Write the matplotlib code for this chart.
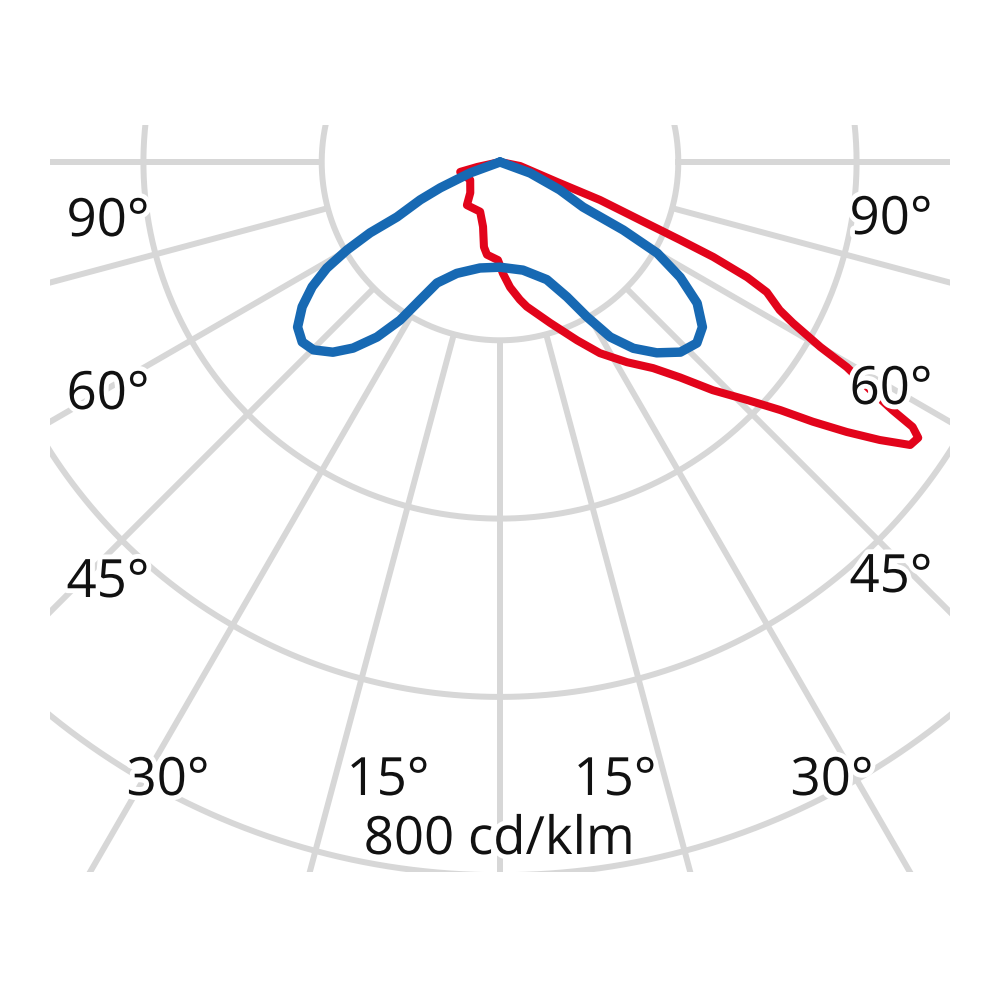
import numpy as np
import matplotlib
matplotlib.use("Agg")
import matplotlib.pyplot as plt
import matplotlib.patheffects as pe

# luminous intensity, angle from nadir (deg, + = right) and cd/klm
blue_angles = [-75, -69.9, -66.6, -64.6, -61.9, -61.4, -60.1, -58.5, -56.4, -53.8,
               -50.8, -47.7, -44.8, -41.3, -38.3, -35.1, -32.3, -30.1, -27.5, -21.2,
               -10.7, 0, 12, 21.7, 26.4, 29.3, 32.2, 35.6, 39.4, 43.5,
               47.4, 50.8, 54.4, 57.4, 59.9, 61.1, 61.5, 65, 69.9, 75]
blue_values = [0, 36, 73, 99, 131, 166, 198, 228, 253, 275,
               293, 300, 297, 284, 266, 240, 210, 179, 153, 134,
               121, 118, 124, 142, 169, 199, 232, 257, 277, 294,
               300, 293, 272, 240, 204, 158, 106, 74, 36, 0]

red_angles = [-85, -77.7, -76, -59, -44, -37.5, -21.8, -14.7, -10.7, -8,
              -1.2, 1.5, 4.6, 8.2, 10.5, 17.3, 23.4, 27.6, 32.4, 36.6,
              39.9, 43.0, 46.1, 48.5, 50.3, 52.1, 53.8, 55.4, 56.6, 57.3,
              57.7, 58.4, 59.4, 60.0, 61.2, 62.1, 64.0, 65.0, 66.0, 66.6,
              67.5, 69.2, 70.7, 78.7, 85]
red_values = [0, 26, 46, 39, 48, 61, 60, 75, 97, 105,
              110, 125, 141, 156, 165, 189, 218, 242, 266, 288,
              315, 350, 385, 420, 456, 493, 528, 559, 562, 550,
              521, 488, 452, 415, 375, 355, 333, 306, 262, 220,
              170, 120, 68, 23, 0]

ring_values = [200, 400, 600, 800, 1000]
spoke_angles = np.arange(0, 360, 15)

left_labels = ["90°", "60°", "45°"]
right_labels = ["90°", "60°", "45°"]
bottom_labels = ["30°", "15°", "15°", "30°"]
scale_label = "800 cd/klm"

grid_color = "#d7d7d7"
blue = "#1769b3"
red = "#e2041b"


def to_xy(angles, values):
    th = np.radians(angles)
    r = np.asarray(values, dtype=float)
    return r * np.sin(th), -r * np.cos(th)


fig = plt.figure(figsize=(10, 10), dpi=100)
ax = fig.add_axes([0.05, 0.128, 0.9, 0.747])
ax.set_xlim(-504.8, 504.8)
ax.set_ylim(-796.4, 41.5)
ax.axis("off")

# polar grid
t = np.linspace(0, 2 * np.pi, 721)
for r in ring_values:
    ax.plot(r * np.cos(t), r * np.sin(t), color=grid_color, lw=4.3, zorder=1)
for a in spoke_angles:
    x, y = to_xy([a, a], [ring_values[0], 1300])
    ax.plot(x, y, color=grid_color, lw=4.3, zorder=1, solid_capstyle="butt")

# curves
x, y = to_xy(red_angles, red_values)
ax.plot(x, y, color=red, lw=5.8, zorder=2, solid_joinstyle="round", solid_capstyle="round")
x, y = to_xy(blue_angles, blue_values)
ax.plot(x, y, color=blue, lw=6.8, zorder=3, solid_joinstyle="round", solid_capstyle="round")

# labels (pixel positions -> figure fraction)
halo = [pe.withStroke(linewidth=7, foreground="white")]
txt = dict(fontsize=38, family=["Open Sans", "DejaVu Sans"], color="#111111",
           ha="center", va="baseline", path_effects=halo, zorder=5)
for lab, py in zip(left_labels, [236, 409, 597]):
    fig.text(108 / 1000, 1 - py / 1000, lab, **txt)
for lab, py in zip(right_labels, [234, 404, 592]):
    fig.text(891 / 1000, 1 - py / 1000, lab, **txt)
for lab, px in zip(bottom_labels, [168, 388, 615, 832]):
    fig.text(px / 1000, 1 - 795 / 1000, lab, **txt)
fig.text(499 / 1000, 1 - 854 / 1000, scale_label, **txt)

fig.savefig("out.png", dpi=100, facecolor="white")
